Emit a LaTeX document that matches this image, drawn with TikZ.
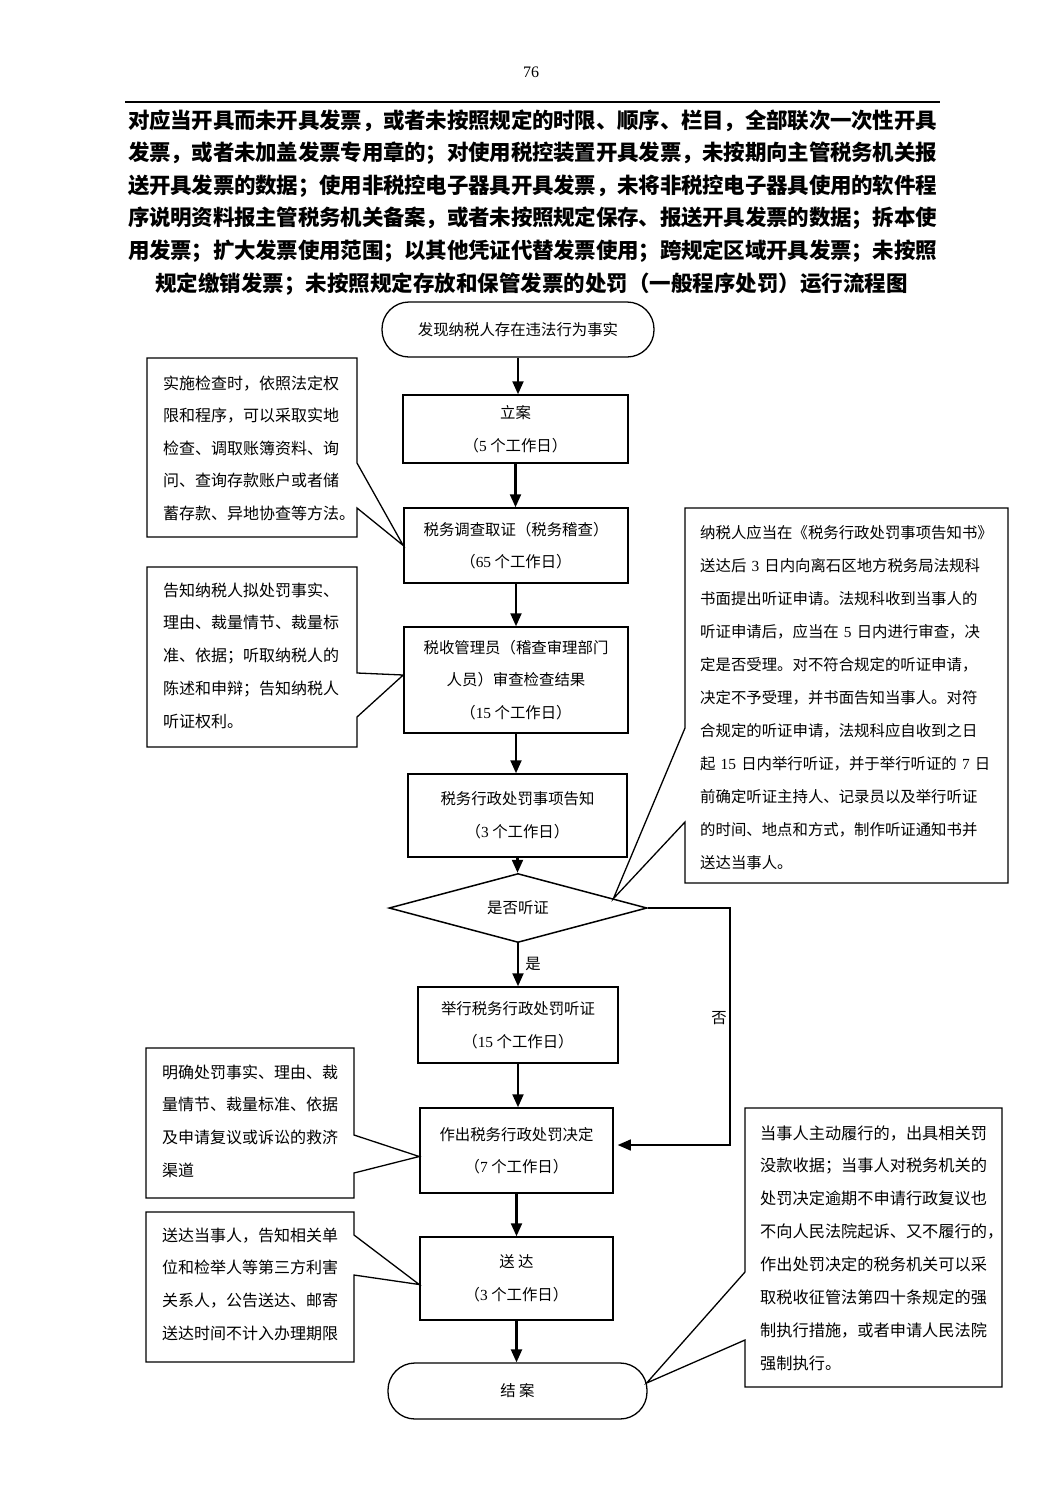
\documentclass[tikz,border=0pt]{standalone}
\usepackage{fontspec}
\setmainfont{Noto Sans CJK SC}
\newfontfamily\tms{Liberation Serif}
\usetikzlibrary{shapes.geometric,arrows.meta,calc}
\newcommand\nm[1]{{\tms #1}}
\newcount\cjkcnt
\cjkcnt="4E00
\loop
  \XeTeXcharclass\cjkcnt=7
  \advance\cjkcnt by 1
\ifnum\cjkcnt<"A000 \repeat
\XeTeXcharclass"FF08=7 \XeTeXcharclass"FF09=7 \XeTeXcharclass"FF0C=7
\XeTeXcharclass"FF1B=7 \XeTeXcharclass"3001=7 \XeTeXcharclass"3002=7
\XeTeXinterchartoks 7 7 = {\hskip 0pt plus 1pt minus 0.5pt}
\newcommand\jline[1]{{\XeTeXinterchartokenstate=1 \makebox[809pt][s]{#1}}}
\tikzset{
  pbox/.style={draw, line width=1.5pt, inner sep=0pt, align=center, font=\fontsize{15.4}{32.5}\selectfont},
  term/.style={pbox, line width=1.3pt, rounded corners=27pt},
  dia/.style={draw, line width=1.5pt, shape=diamond, aspect=3.74, inner sep=0pt, font=\fontsize{15.4}{18}\selectfont},
  arr/.style={line width=2.2pt, -{Triangle[length=13pt,width=11pt]}},
  noarr/.style={line width=1.3pt, -{Triangle[length=13pt,width=11pt]}},
  callout/.style={draw, line width=1.3pt, line join=miter},
  ctxt/.style={anchor=base west, align=left, inner sep=0pt, text width=#1},
  lbl/.style={inner sep=0pt, font=\fontsize{15.4}{18}\selectfont},
  ttl/.style={inner sep=0pt, font=\bfseries\fontsize{21.5}{24}\selectfont},
}
\begin{document}
\begin{tikzpicture}[x=1pt,y=-1pt]
\fill[white] (0,0) rectangle (1063,1502);
\useasboundingbox (0,0) rectangle (1063,1502);

% header
\node[inner sep=0pt, font=\tms\fontsize{16}{16}\selectfont] (pg) at (531,72) {76};
\coordinate (rl) at (125,102);
\coordinate (rr) at (940,102);
\draw[line width=1.5pt] (rl) -- (rr);

% title
\node[ttl] (t1) at (532.5,120.5) {\jline{对应当开具而未开具发票，或者未按照规定的时限、顺序、栏目，全部联次一次性开具}};
\node[ttl] (t2) at (532.5,153.2) {\jline{发票，或者未加盖发票专用章的；对使用税控装置开具发票，未按期向主管税务机关报}};
\node[ttl] (t3) at (532.5,185.9) {\jline{送开具发票的数据；使用非税控电子器具开具发票，未将非税控电子器具使用的软件程}};
\node[ttl] (t4) at (532.5,218.6) {\jline{序说明资料报主管税务机关备案，或者未按照规定保存、报送开具发票的数据；拆本使}};
\node[ttl] (t5) at (532.5,251.3) {\jline{用发票；扩大发票使用范围；以其他凭证代替发票使用；跨规定区域开具发票；未按照}};
\node[ttl] (t6) at (531.5,284) {规定缴销发票；未按照规定存放和保管发票的处罚（一般程序处罚）运行流程图};

% main flow
\node[term, minimum width=272pt, minimum height=55pt] (start) at (518,329.5) {发现纳税人存在违法行为事实};
\node[pbox, minimum width=225pt, minimum height=68pt] (b1) at (515.5,429) {立案\\（\nm{5} 个工作日）};
\node[pbox, minimum width=224pt, minimum height=75pt] (b2) at (516,545.5) {税务调查取证（税务稽查）\\（\nm{65} 个工作日）};
\node[pbox, minimum width=224pt, minimum height=106pt] (b3) at (516,680) {税收管理员（稽查审理部门\\人员）审查检查结果\\（\nm{15} 个工作日）};
\node[pbox, minimum width=219pt, minimum height=83pt] (b4) at (517.5,815.5) {税务行政处罚事项告知\\（\nm{3} 个工作日）};
\node[dia, minimum width=258pt, minimum height=69pt] (d) at (518,908) {是否听证};
\node[pbox, minimum width=200pt, minimum height=76pt] (b5) at (518,1025) {举行税务行政处罚听证\\（\nm{15} 个工作日）};
\node[pbox, minimum width=193pt, minimum height=85pt] (b6) at (516.5,1150.5) {作出税务行政处罚决定\\（\nm{7} 个工作日）};
\node[pbox, minimum width=193pt, minimum height=83pt] (b7) at (516.5,1278.5) {送\ 达\\（\nm{3} 个工作日）};
\node[term, minimum width=259pt, minimum height=56pt] (end) at (517.5,1391) {结\ 案};

\draw[arr] (start.south) -- (start.south |- b1.north);
\draw[arr] (b1.south) -- (b1.south |- b2.north);
\draw[arr] (b2.south) -- (b2.south |- b3.north);
\draw[arr] (b3.south) -- (b3.south |- b4.north);
\draw[arr] (b4.south) -- (b4.south |- d.north);
\draw[arr] (d.south) -- (d.south |- b5.north);
\draw[arr] (b5.south) -- (b5.south |- b6.north);
\draw[arr] (b6.south) -- (b6.south |- b7.north);
\draw[arr] (b7.south) -- (b7.south |- end.north);

\node[lbl] (yes) at (533,964) {是};
\node[lbl] (no) at (719,1018) {否};
\coordinate (nc) at (730,1145);
\draw[noarr, shorten >=4pt] (d.east) -| (nc) -- (nc -| b6.east);

% callouts
\coordinate (tip1) at (b2.west);
\draw[callout] (147,358) -- (357,358) -- (357,463) -- (tip1) -- (357,508) -- (357,537) -- (147,537) -- cycle;
\node[ctxt=200pt, font=\fontsize{16}{32.6}\selectfont] (c1) at (163,389) {实施检查时，依照法定权\\限和程序，可以采取实地\\检查、调取账簿资料、询\\问、查询存款账户或者储\\蓄存款、异地协查等方法。};

\coordinate (tip2) at ($(b3.west)+(0,-5)$);
\draw[callout] (147,567) -- (357,567) -- (357,673) -- (tip2) -- (357,717) -- (357,747) -- (147,747) -- cycle;
\node[ctxt=200pt, font=\fontsize{16}{32.8}\selectfont] (c2) at (163,596) {告知纳税人拟处罚事实、\\理由、裁量情节、裁量标\\准、依据；听取纳税人的\\陈述和申辩；告知纳税人\\听证权利。};

\coordinate (tip3) at ($(b6.west)+(0,6)$);
\draw[callout] (146,1048) -- (354,1048) -- (354,1135) -- (tip3) -- (354,1173) -- (354,1198) -- (146,1198) -- cycle;
\node[ctxt=200pt, font=\fontsize{16}{32.7}\selectfont] (c3) at (162,1078) {明确处罚事实、理由、裁\\量情节、裁量标准、依据\\及申请复议或诉讼的救济\\渠道};

\coordinate (tip4) at ($(b7.west)+(0,6)$);
\draw[callout] (146,1212) -- (354,1212) -- (354,1235) -- (tip4) -- (354,1275) -- (354,1362) -- (146,1362) -- cycle;
\node[ctxt=200pt, font=\fontsize{16}{32.7}\selectfont] (c4) at (162,1241) {送达当事人，告知相关单\\位和检举人等第三方利害\\关系人，公告送达、邮寄\\送达时间不计入办理期限};

\coordinate (tip5) at ($(d.north east)!0.47!(d.east)$);
\draw[callout] (685,508) -- (1008,508) -- (1008,883) -- (685,883) -- (685,822) -- (tip5) -- (685,728) -- cycle;
\node[ctxt=310pt, font=\fontsize{15.4}{33}\selectfont] (r1) at (700,538) {纳税人应当在《税务行政处罚事项告知书》\\送达后 \nm{3} 日内向离石区地方税务局法规科\\书面提出听证申请。法规科收到当事人的\\听证申请后，应当在 \nm{5} 日内进行审查，决\\定是否受理。对不符合规定的听证申请，\\决定不予受理，并书面告知当事人。对符\\合规定的听证申请，法规科应自收到之日\\起 \nm{15} 日内举行听证，并于举行听证的 \nm{7} 日\\前确定听证主持人、记录员以及举行听证\\的时间、地点和方式，制作听证通知书并\\送达当事人。};

\coordinate (tip6) at ($(end.east)+(-1,-8)$);
\draw[callout] (745,1108) -- (1002,1108) -- (1002,1387) -- (745,1387) -- (745,1340) -- (tip6) -- (745,1272) -- cycle;
\node[ctxt=240pt, font=\fontsize{16.2}{32.9}\selectfont] (r2) at (760,1139) {当事人主动履行的，出具相关罚\\没款收据；当事人对税务机关的\\处罚决定逾期不申请行政复议也\\不向人民法院起诉、又不履行的，\\作出处罚决定的税务机关可以采\\取税收征管法第四十条规定的强\\制执行措施，或者申请人民法院\\强制执行。};
\end{tikzpicture}
\end{document}
